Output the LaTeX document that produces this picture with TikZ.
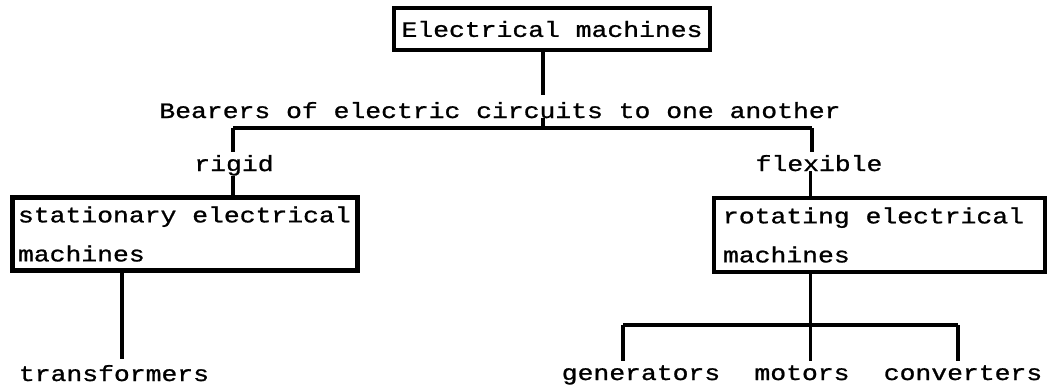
\documentclass[tikz,border=0pt]{standalone}
\usepackage{fontspec}
\setmonofont[FakeStretch=1.2, FakeBold=1]{Liberation Mono}
\usetikzlibrary{positioning}
\newcommand\wordgap{\spaceskip=15.84pt\relax}

\begin{document}
\begin{tikzpicture}[x=1pt, y=-1pt,
    font=\ttfamily\fontsize{22}{39}\selectfont,
    mbox/.style={draw, line width=4.5pt, inner sep=0pt, align=left},
    lbl/.style={inner sep=0pt, anchor=base},
    conn/.style={line width=4pt},
    thin/.style={line width=3pt}
]
\useasboundingbox (0,0) rectangle (1048,384);

% root and criterion
\node[mbox, minimum width=316, minimum height=42, align=center] (root) at (552,29) {\wordgap Electrical machines};
\node[lbl] (bearers) at (500,118) {Bearers of electric circuits to one another};
\coordinate (split) at (543,128);
\coordinate (lft)   at (233,128);
\coordinate (rgt)   at (812,128);

% second level
\node[lbl] (rigid)    at (234,171) {rigid};
\node[lbl] (flexible) at (819,171) {flexible};
\node[mbox, minimum width=345, minimum height=73, text width=334] (sbox) at (185,234) {\wordgap stationary electrical\\machines};
\node[mbox, minimum width=331, minimum height=74, text width=313] (rbox) at (879.5,235) {\wordgap rotating electrical\\machines};

% leaves
\node[lbl] (trans) at (114,381) {transformers};
\node[lbl] (gen)   at (641,380) {generators};
\node[lbl] (mot)   at (802,380) {motors};
\node[lbl] (conv)  at (963,380) {converters};
\coordinate (hub)  at (810,325);
\coordinate (hubl) at (623,325);
\coordinate (hubr) at (958,325);

\draw[conn] (root.south -| split) -- ([yshift=7pt]bearers.north -| split);
\draw[conn] (bearers.south -| split) -- (split);
\draw[conn] (lft) -- (rgt);
\draw[conn] (lft) -- ([yshift=3pt]rigid.north -| lft);
\draw[conn] (rgt) -- ([yshift=3pt]flexible.north -| rgt);
\draw[conn] (rigid.south -| lft) -- (sbox.north -| lft);
\draw[thin] (flexible.south -| hub) -- (rbox.north -| hub);

\draw[conn] (sbox.south -| 122,0) -- ([yshift=6pt]trans.north -| 122,0);
\draw[thin] (rbox.south -| hub) -- (hub);
\draw[conn] (hubl) -- (hubr);
\draw[conn] (hubl) -- ([yshift=4pt]gen.north -| hubl);
\draw[thin] (hub) -- ([yshift=4pt]mot.north -| hub);
\draw[conn] (hubr) -- ([yshift=4pt]conv.north -| hubr);
\end{tikzpicture}
\end{document}
